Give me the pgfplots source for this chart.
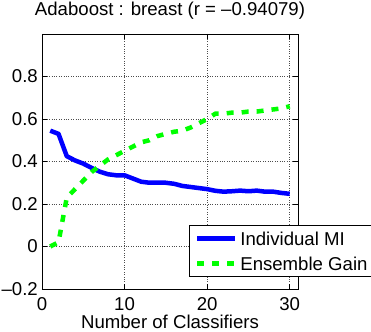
\documentclass[border=0pt]{standalone}
\usepackage{fontspec}
\setmainfont{Liberation Sans}
\usepackage{pgfplots}
\pgfplotsset{compat=1.18}
\pgfplotstableread{
x mi gain
1 0.545 0.00
2 0.53 0.02
3 0.425 0.23
4 0.405 0.27
5 0.39 0.31
6 0.37 0.35
7 0.352 0.38
8 0.34 0.41
9 0.335 0.43
10 0.335 0.45
11 0.32 0.47
12 0.305 0.49
13 0.30 0.50
14 0.30 0.52
15 0.30 0.53
16 0.295 0.54
17 0.285 0.545
18 0.28 0.56
19 0.275 0.58
20 0.27 0.60
21 0.262 0.625
22 0.258 0.625
23 0.26 0.63
24 0.263 0.63
25 0.26 0.635
26 0.263 0.635
27 0.258 0.64
28 0.258 0.645
29 0.252 0.65
30 0.248 0.66
}\data
\begin{document}
\begin{tikzpicture}
\begin{axis}[name=ax,
  scale only axis, width=256pt, height=255pt,
  xmin=0, xmax=31, ymin=-0.2, ymax=1,
  enlargelimits=false,
  font=\fontsize{18.6}{22.3}\selectfont,
  xtick={0,10,20,30},
  ytick={-0.2,0,0.2,0.4,0.6,0.8},
  yticklabels={\textendash0.2,0,0.2,0.4,0.6,0.8},
  /pgf/number format/assume math mode=true,
  tick align=inside, tick pos=both,
  major tick length=5pt,
  tick style={black, line width=0.6pt},
  axis line style={black, line width=0.8pt},
  grid=major,
  major grid style={dotted, black!70, line width=0.6pt},
  xticklabel style={anchor=base, yshift=-21pt},
  yticklabel style={inner sep=0pt, xshift=-4pt},
  title={Adaboost : breast (r = \textendash0.94079)},
  title style={at={(0.5,1)}, anchor=base, yshift=12.5pt, inner sep=0pt},
  xlabel={Number of Classifiers},
  xlabel style={at={(0.5,0)}, anchor=base, yshift=-39pt, inner sep=0pt},
  legend style={at={(0.574,0.251)}, anchor=north west, draw=black, line width=0.8pt,
    inner xsep=5.5pt, inner ysep=4.5pt, row sep=7.5pt, column sep=1pt,
    nodes={inner sep=2pt, text height=13.5pt, text depth=0pt}},
  legend cell align=left,
  legend image code/.code={\draw[#1] (0pt,0pt) -- (38pt,0pt);},
]
\addplot[blue, line width=4.5pt, line join=round] table[x=x, y=mi] {\data};
\addlegendentry{Individual MI}
\addplot[green, line width=4.5pt, dash pattern=on 7pt off 8pt] table[x=x, y=gain] {\data};
\addlegendentry{Ensemble Gain}
\end{axis}
\pgfresetboundingbox
\useasboundingbox ([xshift=-42pt,yshift=-42pt]ax.south west) rectangle ([xshift=73pt,yshift=34pt]ax.north east);
\end{tikzpicture}
\end{document}
